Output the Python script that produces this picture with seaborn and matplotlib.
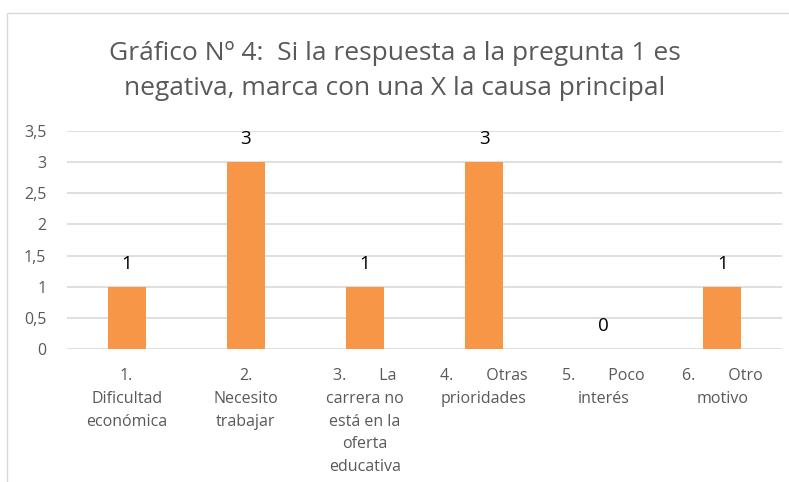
import matplotlib
matplotlib.use("Agg")
import matplotlib.pyplot as plt
import seaborn as sns
import pandas as pd
from matplotlib.patches import Rectangle

# datos del grafico
categorias = [
    "1.\nDificultad\neconómica",
    "2.\nNecesito\ntrabajar",
    "3.        La\ncarrera no\nestá en la\noferta\neducativa",
    "4.        Otras\nprioridades",
    "5.        Poco\ninterés",
    "6.        Otro\nmotivo",
]
valores = [1, 3, 1, 3, 0, 1]
yticks = [0, 0.5, 1, 1.5, 2, 2.5, 3, 3.5]
ytick_labels = ["0", "0,5", "1", "1,5", "2", "2,5", "3", "3,5"]
titulo = "Gráfico Nº 4:  Si la respuesta a la pregunta 1 es\nnegativa, marca con una X la causa principal"

sns.set_theme(style="white")
plt.rcParams["font.family"] = ["Open Sans", "DejaVu Sans"]

df = pd.DataFrame({"causa": categorias, "n": valores})

fig = plt.figure(figsize=(7.89, 4.82), dpi=100)
ax = fig.add_axes([0.085, 0.276, 0.906, 0.452])

sns.barplot(data=df, x="causa", y="n", color="#F79646", width=0.32,
            saturation=1, linewidth=0, ax=ax)

ax.set_ylim(0, 3.5)
ax.set_yticks(yticks)
ax.set_yticklabels(ytick_labels)
ax.yaxis.grid(True, color="#d9d9d9", linewidth=1.2)
ax.set_axisbelow(True)
for s in ax.spines.values():
    s.set_visible(False)
ax.set_xlabel("")
ax.set_ylabel("")
ax.tick_params(axis="y", length=0, labelsize=11.5, labelcolor="#595959", pad=15)
ax.tick_params(axis="x", length=0, labelsize=11.5, labelcolor="#595959", pad=14)
for lbl in ax.get_xticklabels():
    lbl.set_linespacing(1.55)

ax.bar_label(ax.containers[0], labels=[str(v) for v in valores],
             padding=10, fontsize=13.5, color="black")

fig.text(0.5, 0.853, titulo, ha="center", va="center", fontsize=19,
         color="#595959", linespacing=1.5)

# borde del area del grafico
fig.patches.append(Rectangle((7 / 789, -0.05), 1.2, 1 - 13 / 482 + 0.05,
                             transform=fig.transFigure, fill=False,
                             edgecolor="#d9d9d9", linewidth=1))

fig.savefig("out.png", dpi=100)
